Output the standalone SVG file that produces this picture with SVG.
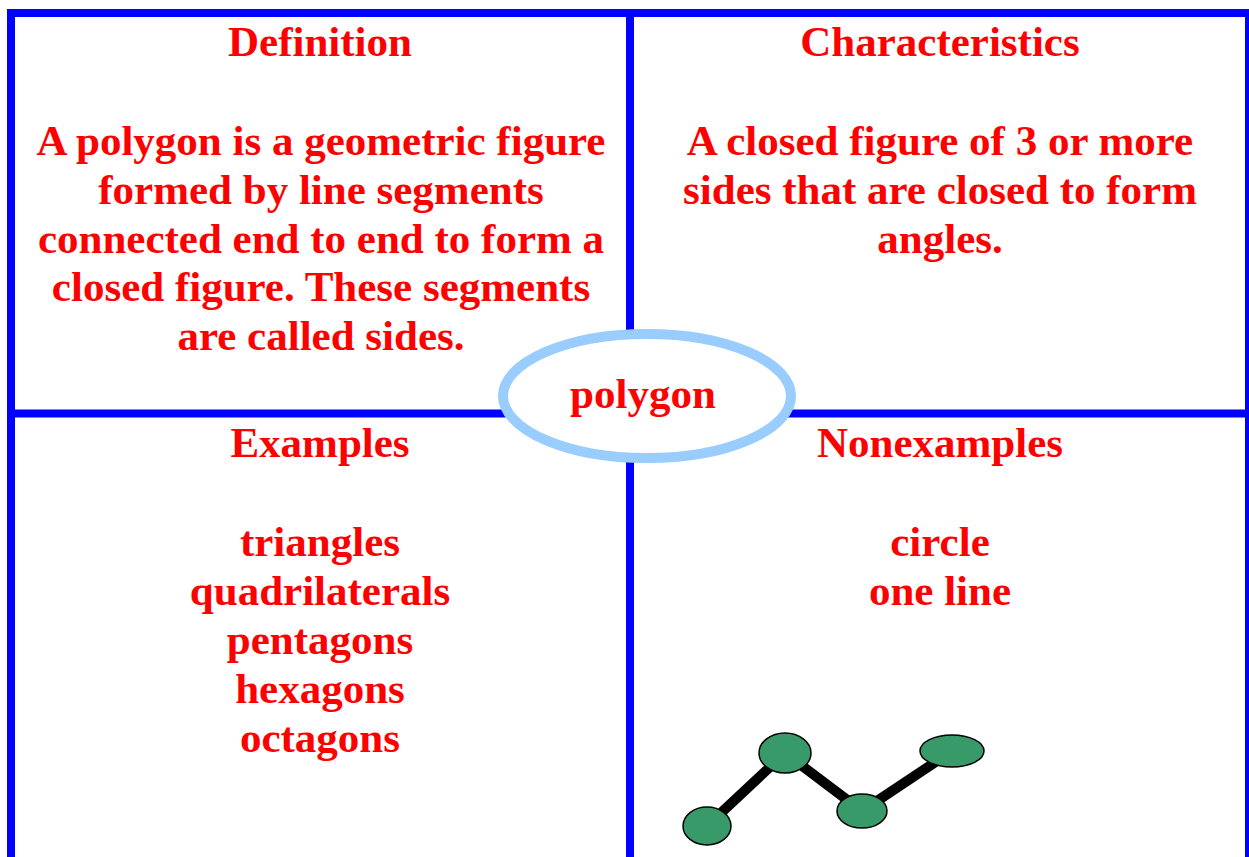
<svg xmlns="http://www.w3.org/2000/svg" width="1249" height="857" viewBox="0 0 1249 857">
<style>
.t{font-family:"Liberation Serif","Times New Roman",serif;font-weight:bold;font-size:43px;fill:#FF0000;text-anchor:middle}
.frame{fill:none;stroke:#0000FF;stroke-width:8}
.dot{fill:#389A68;stroke:#000;stroke-width:1.5}
.seg{stroke:#000;stroke-width:10;fill:none}
</style>
<rect x="0" y="0" width="1249" height="857" fill="#fff"/>
<g id="frame">
<rect class="frame" x="11" y="13" width="1238" height="900"/>
<line class="frame" x1="630" y1="13" x2="630" y2="870"/>
<line class="frame" x1="11" y1="413.5" x2="1249" y2="413.5"/>
</g>
<g id="definition">
<text class="t" x="320" y="56">Definition</text>
<text class="t" x="321" y="155">A polygon is a geometric figure</text>
<text class="t" x="321" y="204">formed by line segments</text>
<text class="t" x="321" y="253">connected end to end to form a</text>
<text class="t" x="321" y="301">closed figure. These segments</text>
<text class="t" x="321" y="350">are called sides.</text>
</g>
<g id="characteristics">
<text class="t" x="940" y="56">Characteristics</text>
<text class="t" x="940" y="155">A closed figure of 3 or more</text>
<text class="t" x="940" y="204">sides that are closed to form</text>
<text class="t" x="940" y="253">angles.</text>
</g>
<g id="examples">
<text class="t" x="320" y="457">Examples</text>
<text class="t" x="320" y="556">triangles</text>
<text class="t" x="320" y="605">quadrilaterals</text>
<text class="t" x="320" y="654">pentagons</text>
<text class="t" x="320" y="703">hexagons</text>
<text class="t" x="320" y="752">octagons</text>
</g>
<g id="nonexamples">
<text class="t" x="940" y="457">Nonexamples</text>
<text class="t" x="940" y="556">circle</text>
<text class="t" x="940" y="605">one line</text>
</g>
<g id="connectors">
<polyline class="seg" points="707,826 785,753 862,811 952,751"/>
</g>
<g id="nonexample-figure">
<ellipse class="dot" cx="707" cy="826" rx="24" ry="19"/>
<ellipse class="dot" cx="785" cy="753" rx="26" ry="20"/>
<ellipse class="dot" cx="862" cy="811" rx="25" ry="17"/>
<ellipse class="dot" cx="952" cy="751" rx="32" ry="16"/>
</g>
<g id="center">
<ellipse cx="647" cy="396" rx="144" ry="62" fill="#fff" stroke="#99CCFF" stroke-width="10"/>
<text class="t" x="643" y="408">polygon</text>
</g>
</svg>
